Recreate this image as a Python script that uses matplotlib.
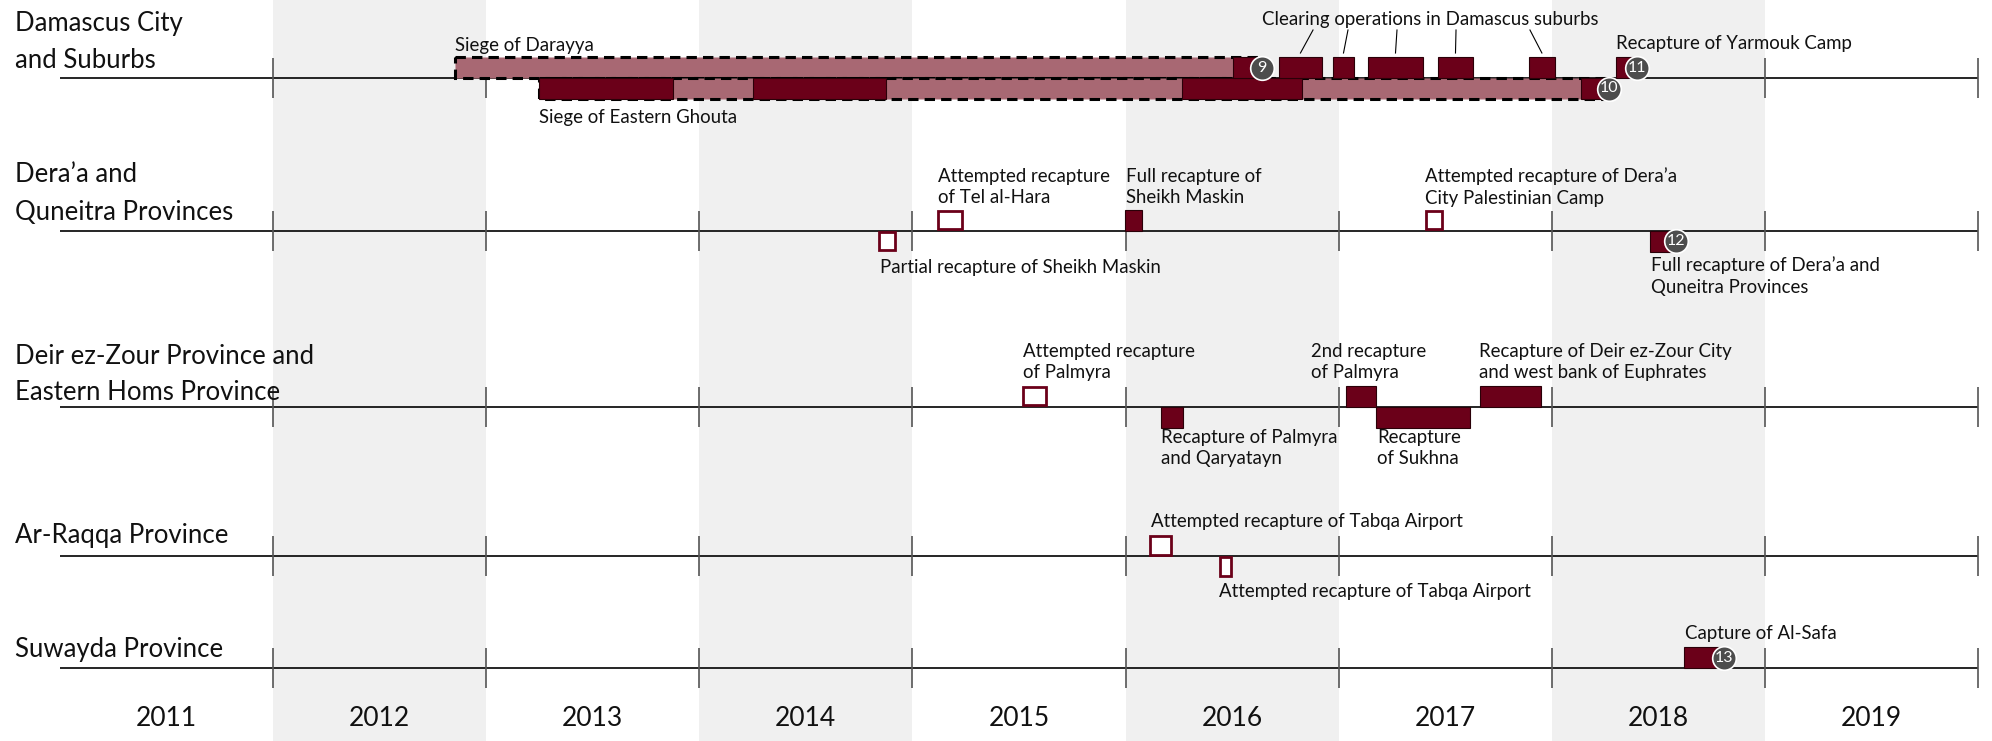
import matplotlib
matplotlib.use("Agg")
import matplotlib.pyplot as plt
from matplotlib.patches import Rectangle

plt.rcParams['font.family'] = ['Lato', 'DejaVu Sans']

# --- data ---
years = list(range(2011, 2020))
shaded_years = [2012, 2014, 2016, 2018]

row_names = ["Damascus City\nand Suburbs",
             "Dera\u2019a and\nQuneitra Provinces",
             "Deir ez-Zour Province and\nEastern Homs Province",
             "Ar-Raqqa Province",
             "Suwayda Province"]
row_y = [78, 230.5, 406.5, 556, 668]       # baseline of each row (px from top)
title_y = [41.5, 193.5, 374.5, 536, 649]

# sieges: row, start, end, side
sieges = [(0, 2012.854, 2016.64, "up"),
          (0, 2013.248, 2018.27, "down")]

# solid bars: row, start, end, side
solid = [(0, 2013.248, 2013.877, "down"),
         (0, 2014.252, 2014.876, "down"),
         (0, 2016.265, 2016.828, "down"),
         (0, 2018.137, 2018.269, "down"),
         (0, 2016.504, 2016.641, "up"),
         (0, 2016.720, 2016.922, "up"),
         (0, 2016.974, 2017.072, "up"),
         (0, 2017.138, 2017.396, "up"),
         (0, 2017.466, 2017.631, "up"),
         (0, 2017.893, 2018.015, "up"),
         (0, 2018.302, 2018.400, "up"),
         (1, 2015.998, 2016.077, "up"),
         (1, 2018.461, 2018.583, "down"),
         (2, 2016.167, 2016.270, "down"),
         (2, 2017.035, 2017.175, "up"),
         (2, 2017.175, 2017.617, "down"),
         (2, 2017.664, 2017.950, "up"),
         (4, 2018.621, 2018.808, "up")]

# attempted (hollow) bars: row, start, end, side
hollow = [(1, 2014.839, 2014.923, "down"),
          (1, 2015.115, 2015.237, "up"),
          (1, 2017.405, 2017.490, "up"),
          (2, 2015.514, 2015.632, "up"),
          (3, 2016.110, 2016.218, "up"),
          (3, 2016.439, 2016.500, "down")]

# numbered markers: number, row, x, side
markers = [("9", 0, 2016.641, "up"),
           ("10", 0, 2018.269, "down"),
           ("11", 0, 2018.400, "up"),
           ("12", 1, 2018.583, "down"),
           ("13", 4, 2018.808, "up")]

# clearing operations leader lines: top x, index of bar in solid list
clearing_top_x = [2016.880, 2017.044, 2017.274, 2017.551, 2017.898]
clearing_bars = [5, 6, 7, 8, 9]

# labels: text, x, y
labels = [("Siege of Darayya", 2012.854, 45),
          ("Siege of Eastern Ghouta", 2013.25, 117),
          ("Clearing operations in Damascus suburbs", 2016.641, 19),
          ("Recapture of Yarmouk Camp", 2018.302, 43),
          ("Attempted recapture\nof Tel al-Hara", 2015.12, 187),
          ("Full recapture of\nSheikh Maskin", 2016.0, 187),
          ("Partial recapture of Sheikh Maskin", 2014.85, 267),
          ("Attempted recapture of Dera\u2019a\nCity Palestinian Camp", 2017.405, 187),
          ("Full recapture of Dera\u2019a and\nQuneitra Provinces", 2018.465, 276),
          ("Attempted recapture\nof Palmyra", 2015.52, 362),
          ("Recapture of Palmyra\nand Qaryatayn", 2016.167, 448),
          ("2nd recapture\nof Palmyra", 2016.87, 362),
          ("Recapture\nof Sukhna", 2017.18, 448),
          ("Recapture of Deir ez-Zour City\nand west bank of Euphrates", 2017.66, 362),
          ("Attempted recapture of Tabqa Airport", 2016.12, 521),
          ("Attempted recapture of Tabqa Airport", 2016.44, 591),
          ("Capture of Al-Safa", 2018.625, 633)]

DARK = "#6b0019"
LIGHT = "#a86873"
BAR_H = 21

fig = plt.figure(figsize=(19.92, 7.41), dpi=100)
ax = fig.add_axes([0, 0, 1, 1])
ax.set_xlim(2011 - 60 / 213.1, 2011 + 1932 / 213.1)
ax.set_ylim(741, 0)
ax.axis("off")

for y in shaded_years:
    ax.axvspan(y, y + 1, color="#f0f0f0", zorder=0, lw=0)

for ry in row_y:
    ax.hlines(ry, 2011, 2020, color="black", lw=1.2, zorder=1)
    ax.vlines(range(2012, 2021), ry - 20, ry + 20, color="#555555", lw=1.2, zorder=1)


def bar_y(row, side):
    return row_y[row] - BAR_H if side == "up" else row_y[row]


for row, s, e, side in sieges:
    ax.add_patch(Rectangle((s, bar_y(row, side)), e - s, BAR_H, facecolor=LIGHT,
                           edgecolor="black", lw=2.2, ls=(0, (3.4, 2.0)), zorder=2))

for row, s, e, side in solid:
    ax.add_patch(Rectangle((s, bar_y(row, side)), e - s, BAR_H, facecolor=DARK,
                           edgecolor="#2a0008", lw=0.8, zorder=3))

for row, s, e, side in hollow:
    ax.add_patch(Rectangle((s + 0.004, bar_y(row, side) + 1.2), e - s - 0.008, BAR_H - 2.4,
                           facecolor="white", edgecolor=DARK, lw=2, zorder=3))

for num, row, x, side in markers:
    cy = bar_y(row, side) + BAR_H / 2
    ax.plot(x, cy, "o", ms=17, mfc="#4d4d4d", mec="white", mew=1.2, zorder=5)
    ax.text(x, cy, num, color="white", fontsize=11.5, ha="center", va="center", zorder=6)

for tx, i in zip(clearing_top_x, clearing_bars):
    bx = (solid[i][1] + solid[i][2]) / 2
    ax.plot([tx, bx], [30, 53], color="black", lw=0.8, zorder=4)

for txt, x, y in labels:
    ax.text(x, y, txt, fontsize=13.4, ha="left", va="center", linespacing=1.33,
            color="#111111", zorder=6)

for name, y in zip(row_names, title_y):
    ax.text(2011 - 45 / 213.1, y, name, fontsize=18.5, ha="left", va="center",
            linespacing=1.6, color="#111111", zorder=6)

for yr in years:
    ax.text(yr + 0.5, 719, str(yr), fontsize=19, ha="center", va="center",
            color="#111111", zorder=6)

fig.savefig("out.png", dpi=100)
